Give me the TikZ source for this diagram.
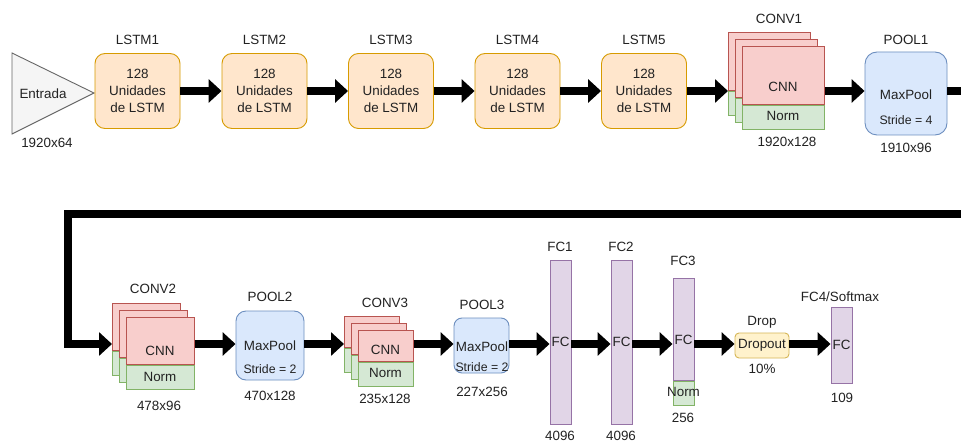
\documentclass[tikz,border=0pt]{standalone}
\usepackage{fontspec}
\setmainfont{Liberation Sans}
\usetikzlibrary{arrows.meta}

\definecolor{txt}{HTML}{222222}
\definecolor{lstmfill}{HTML}{FFE6CC}\definecolor{lstmline}{HTML}{D79B00}
\definecolor{cnnfill}{HTML}{F8CECC}\definecolor{cnnline}{HTML}{B85450}
\definecolor{normfill}{HTML}{D5E8D4}\definecolor{normline}{HTML}{82B366}
\definecolor{poolfill}{HTML}{DAE8FC}\definecolor{poolline}{HTML}{6C8EBF}
\definecolor{fcfill}{HTML}{E1D5E7}\definecolor{fcline}{HTML}{9673A6}
\definecolor{dropfill}{HTML}{FFF2CC}\definecolor{dropline}{HTML}{D6B656}
\definecolor{infill}{HTML}{F5F5F5}\definecolor{inline}{HTML}{666666}

\newcommand\fsmain{\fontsize{13.4}{17}\selectfont}
\newcommand\fssmall{\fontsize{12.3}{14}\selectfont}

\tikzset{
  lbl/.style={font=\fsmain, text=txt, inner sep=0pt},
  small/.style={font=\fssmall, text=txt, inner sep=0pt},
  lstmbox/.style={draw=lstmline, fill=lstmfill, line width=0.9pt, rounded corners=10pt,
    minimum width=85pt, minimum height=75pt, inner sep=0pt, align=center, font=\fsmain, text=txt},
  cnnbox/.style={draw=cnnline, fill=cnnfill, line width=0.8pt, inner sep=0pt},
  normbox/.style={draw=normline, fill=normfill, line width=0.8pt, inner sep=0pt},
  poolbox/.style={draw=poolline, fill=poolfill, line width=0.9pt, inner sep=0pt},
  fcbox/.style={draw=fcline, fill=fcfill, line width=0.9pt, inner sep=0pt, minimum width=21pt, font=\fsmain, text=txt},
  dropbox/.style={draw=dropline, fill=dropfill, line width=0.9pt, inner sep=0pt, rounded corners=4pt,
    minimum width=54pt, minimum height=25pt, font=\fsmain, text=txt},
  flow/.style={draw=black, line width=7.5pt, -{Triangle[length=13pt,width=23pt]}},
}

% three stacked CNN+Norm layers: name, left x, top y, width, CNN height, Norm height
\newcommand\convstack[6]{%
  \foreach \k/\s in {0/a,7/b,14/c}{
    \node[cnnbox, minimum width=#4pt, minimum height=#5pt, anchor=north west] (#1\s) at ({#2+\k},{#3+\k}) {};
    \node[normbox, minimum width=#4pt, minimum height=#6pt, anchor=north] (#1\s n) at (#1\s.south) {};
  }%
}

\begin{document}
\begin{tikzpicture}[x=1pt,y=-1pt]
\useasboundingbox[fill=white] (0,0) rectangle (961,441);

\coordinate (row1) at (0,91);
\coordinate (row2) at (0,344);

% ---------- input ----------
\draw[draw=inline, fill=infill, line width=0.9pt] (12,53) -- (94,93) -- (12,134) -- cycle;
\node[lbl] (inp) at (43,94) {Entrada};
\node[lbl] (inpsz) at (47,143) {1920x64};

% ---------- LSTM layers ----------
\foreach \i/\x in {1/137.5,2/264.5,3/391,4/517.5,5/644}{
  \node[lstmbox] (l\i) at (\x,91) {128\\Unidades\\de LSTM};
  \node[lbl] (l\i t) at (\x,40) {LSTM\i};
}

% ---------- CONV1 ----------
\convstack{c1}{728}{32}{82}{58}{24}
\node[lbl] (c1cnn) at (783,87) {CNN};
\node[lbl] (c1norm) at (783,116) {Norm};
\node[lbl] (c1t) at (779,19) {CONV1};
\node[lbl] (c1sz) at (787,142) {1920x128};

% ---------- POOL1 ----------
\node[poolbox, rounded corners=12pt, minimum width=82pt, minimum height=83pt] (p1) at (906,93.5) {};
\node[lbl] (p1a) at (906,95) {MaxPool};
\node[small] (p1b) at (906,120) {Stride = 4};
\node[lbl] (p1t) at (906,40) {POOL1};
\node[lbl] (p1sz) at (906,148) {1910x96};

% ---------- CONV2 ----------
\convstack{c2}{112}{303}{68}{47}{24}
\node[lbl] (c2cnn) at (160,351) {CNN};
\node[lbl] (c2norm) at (160,377) {Norm};
\node[lbl] (c2t) at (153,289) {CONV2};
\node[lbl] (c2sz) at (159,406) {478x96};

% ---------- POOL2 ----------
\node[poolbox, rounded corners=10pt, minimum width=68pt, minimum height=69pt] (p2) at (270,345.5) {};
\node[lbl] (p2a) at (270,346) {MaxPool};
\node[small] (p2b) at (270,369) {Stride = 2};
\node[lbl] (p2t) at (270,297) {POOL2};
\node[lbl] (p2sz) at (270,396) {470x128};

% ---------- CONV3 ----------
\convstack{c3}{344}{316}{55}{31}{24}
\node[lbl] (c3cnn) at (385.5,350) {CNN};
\node[lbl] (c3norm) at (385.5,373) {Norm};
\node[lbl] (c3t) at (385,303) {CONV3};
\node[lbl] (c3sz) at (385,399) {235x128};

% ---------- POOL3 ----------
\node[poolbox, rounded corners=8pt, minimum width=55pt, minimum height=55pt] (p3) at (481.5,345.5) {};
\node[lbl] (p3a) at (482,347) {MaxPool};
\node[small] (p3b) at (482,367) {Stride = 2};
\node[lbl] (p3t) at (482,305) {POOL3};
\node[lbl] (p3sz) at (482,392) {227x256};

% ---------- fully connected ----------
\node[fcbox, minimum height=164pt] (fc1) at (560.5,342) {FC};
\node[lbl] (fc1t) at (560,247) {FC1};
\node[lbl] (fc1sz) at (560,435.5) {4096};

\node[fcbox, minimum height=164pt] (fc2) at (621.5,342) {FC};
\node[lbl] (fc2t) at (621,247) {FC2};
\node[lbl] (fc2sz) at (621,435.5) {4096};

\node[fcbox, minimum height=102pt, anchor=north] (fc3) at (683.5,278) {};
\node[normbox, minimum width=21pt, minimum height=24pt, anchor=north] (fc3n) at (fc3.south) {};
\node[lbl] (fc3a) at (683.5,340) {FC};
\node[lbl] (fc3b) at (683.5,392) {Norm};
\node[lbl] (fc3t) at (683,261) {FC3};
\node[lbl] (fc3sz) at (683,418) {256};

\node[dropbox] (dr) at (762,345.5) {Dropout};
\node[lbl] (drt) at (762,322) {Drop};
\node[lbl] (drsz) at (762,369) {10\%};

\node[fcbox, minimum height=76pt] (fc4) at (841.5,345) {FC};
\node[lbl] (fc4t) at (840,297) {FC4/Softmax};
\node[lbl] (fc4sz) at (842,398) {109};

% ---------- connectors ----------
\foreach \a/\b in {1/2,2/3,3/4,4/5}{
  \draw[flow] (l\a.east |- row1) -- (l\b.west |- row1);
}
\draw[flow] (l5.east |- row1) -- (c1a.west |- row1);
\draw[flow] (c1c.east |- row1) -- (p1.west |- row1);

\coordinate (wr1) at (970,91);
\coordinate (wr2) at (970,214);
\coordinate (wl1) at (68,214);
\draw[flow] (p1.east |- row1) -- (wr1) -- (wr2) -- (wl1) -- (wl1 |- row2) -- (c2a.west |- row2);

\draw[flow] (c2c.east |- row2) -- (p2.west |- row2);
\draw[flow] (p2.east |- row2) -- (c3a.west |- row2);
\draw[flow] (c3c.east |- row2) -- (p3.west |- row2);
\draw[flow] (p3.east |- row2) -- (fc1.west |- row2);
\draw[flow] (fc1.east |- row2) -- (fc2.west |- row2);
\draw[flow] (fc2.east |- row2) -- (fc3.west |- row2);
\draw[flow] (fc3.east |- row2) -- (dr.west |- row2);
\draw[flow] (dr.east |- row2) -- (fc4.west |- row2);
\end{tikzpicture}
\end{document}
